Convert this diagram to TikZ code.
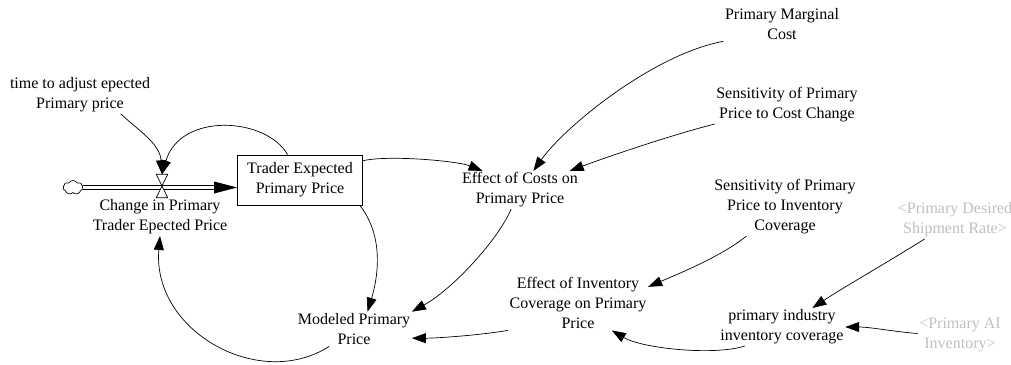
\documentclass[tikz,border=0pt]{standalone}
\usepackage{fontspec}
\setmainfont{Liberation Serif}
\usetikzlibrary{arrows.meta,shapes.symbols,calc}
\begin{document}
\begin{tikzpicture}[x=1pt,y=-1pt,
  var/.style={align=center, inner sep=1.5pt, font=\fontsize{16}{20}\selectfont},
  shadowvar/.style={var, text=black!25},
  stock/.style={var, draw, line width=0.8pt, minimum width=125pt, minimum height=50pt},
  link/.style={line width=0.7pt, -{Triangle[length=14pt,width=10pt]}},
  pipe/.style={line width=0.7pt, double, double distance=3pt},
  valveshape/.style={minimum width=11pt, minimum height=23pt, inner sep=0pt},
  cloudshape/.style={cloud, cloud puffs=7, cloud puff arc=120, aspect=1.5, draw, line width=0.7pt, minimum width=20pt, minimum height=14pt, inner sep=0pt},
]
\path[use as bounding box] (0,0) rectangle (1011,364);

% nodes
\node[var] (tadj) at (80,95) {time to adjust epected\\Primary price};
\node[cloudshape] (cloud) at (73,187.5) {};
\node[stock] (box) at (300,180) {Trader Expected\\Primary Price};
\node[valveshape] (valve) at (162,186) {};
\node[var] (chg) at (160,217) {Change in Primary\\Trader Epected Price};
\node[var] (ecost) at (520,190) {Effect of Costs on\\Primary Price};
\node[var] (pmc) at (782,24) {Primary Marginal\\Cost};
\node[var] (scost) at (787,105) {Sensitivity of Primary\\Price to Cost Change};
\node[var] (sinv) at (785,207) {Sensitivity of Primary\\Price to Inventory\\Coverage};
\node[shadowvar] (sdes) at (955,220) {<Primary Desired\\Shipment Rate>};
\node[var] (einv) at (578,303) {Effect of Inventory\\Coverage on Primary\\Price};
\node[var] (pic) at (782,327) {primary industry\\inventory coverage};
\node[shadowvar] (sai) at (960,335) {<Primary AI\\Inventory>};
\node[var] (model) at (354,329) {Modeled Primary\\Price};

% flow pipe
\coordinate (pipeend) at ($(box.west |- cloud.east)+(-23,0)$);
\draw[pipe] (cloud.east) -- (pipeend);
\fill ($(pipeend)+(0,-6)$) -- (box.west |- cloud.east) -- ($(pipeend)+(0,6)$) -- cycle;
\draw[line width=0.7pt, fill=white] (valve.north west) -- (valve.north east) -- (valve.south west) -- (valve.south east) -- cycle;

% links
\draw[link] (tadj.-25) .. controls +(20,18) and +(-2,-30) .. (valve.north);
\draw[link] (box.116) .. controls +(-22,-38) and +(18,-62) .. (valve.north);
\draw[link] (box.17) .. controls +(25,-6) and +(-25,-10) .. (ecost.153);
\draw[link] (box.-23) .. controls +(25,32) and +(10,-33) .. (model.52);
\draw[link] (ecost.-115) .. controls +(-13,31) and +(40,-22) .. (model.north east);
\draw[link] (model.-145) .. controls +(-70,45) and +(-8,95) .. (chg.south);
\draw[link] (pmc.south west) .. controls +(-70,13) and +(32,-45) .. (ecost.55);
\draw[link] (scost.south west) .. controls +(-40,10) and +(40,-15) .. (ecost.21);
\draw[link] (sinv.-143) .. controls +(-25,20) and +(35,-15) .. (einv.13);
\draw[link] (sdes.-148) .. controls +(-40,25) and +(30,-20) .. (pic.32);
\draw[link] (sai.178) .. controls +(-25,-2) and +(25,0) .. (pic.east);
\draw[link] (pic.-153) .. controls +(-30,10) and +(30,18) .. (einv.-39);
\draw[link] (einv.south west) .. controls +(-30,5) and +(25,0) .. (model.-9);
\end{tikzpicture}
\end{document}
